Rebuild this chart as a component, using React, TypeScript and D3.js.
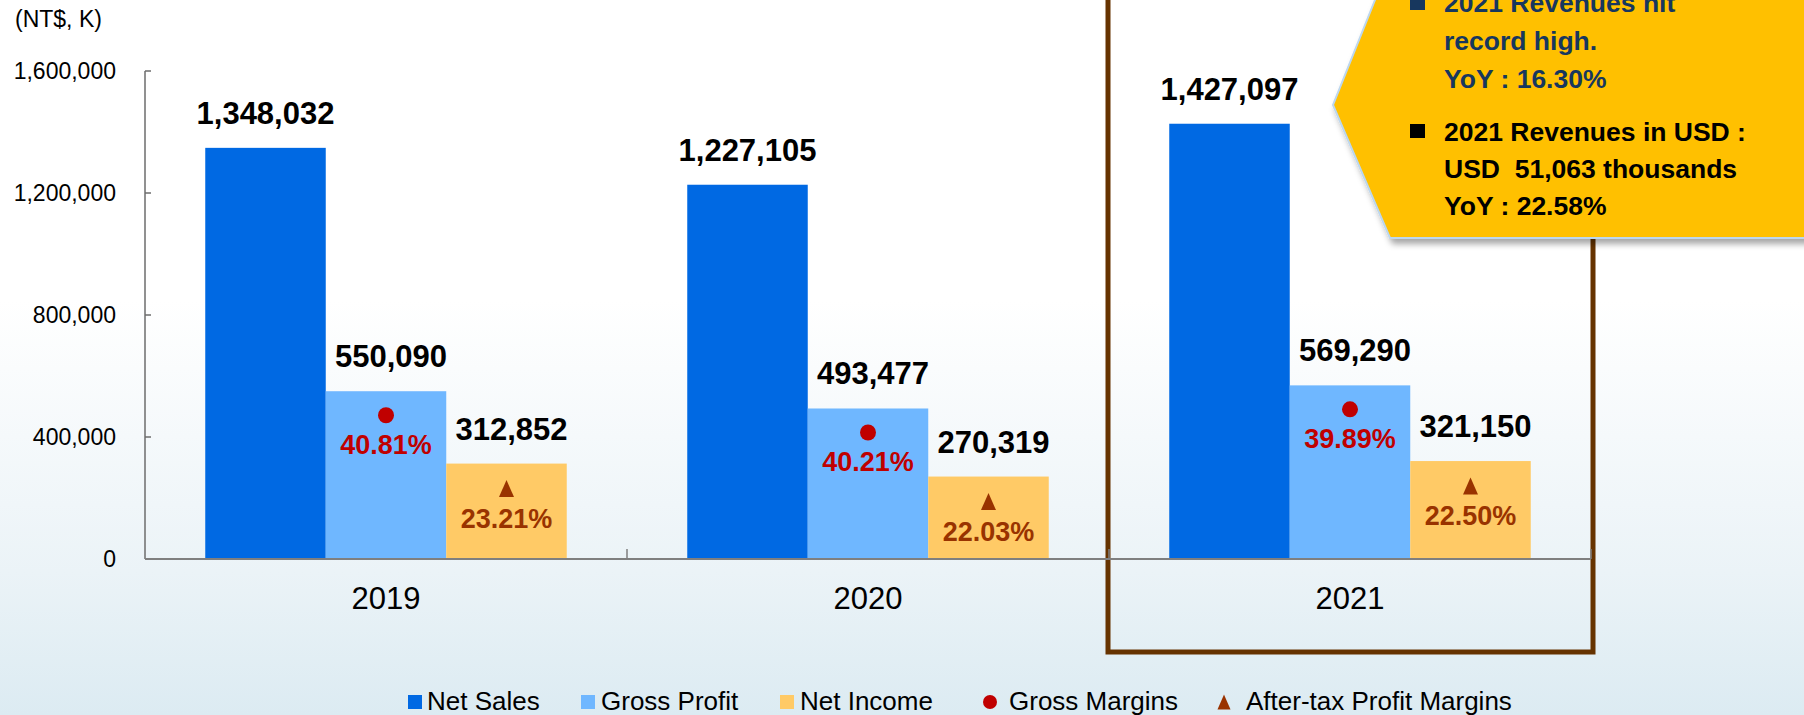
import React from 'react';
import * as d3 from 'd3';

const years = ['2019', '2020', '2021'];
const seriesNames = ['Net Sales', 'Gross Profit', 'Net Income'];
const netSales = [1348032, 1227105, 1427097];
const grossProfit = [550090, 493477, 569290];
const netIncome = [312852, 270319, 321150];
const grossMargins = ['40.81%', '40.21%', '39.89%'];
const afterTaxMargins = ['23.21%', '22.03%', '22.50%'];
const yTicks = [0, 400000, 800000, 1200000, 1600000];
const calloutLines1 = ['2021 Revenues hit', 'record high.', 'YoY : 16.30%'];
const calloutLines2 = ['2021 Revenues in USD :', 'USD  51,063 thousands', 'YoY : 22.58%'];

const W = 1804;
const H = 715;
const FONT = '"Liberation Sans", Arial, sans-serif';
const colors = ['#0069E3', '#6FB7FF', '#FFCA66'];
const RED = '#C00000';
const BROWN = '#993300';
const fmt = d3.format(',');

export default function App() {
  const x = d3.scaleBand().domain(years).range([145, 1591]);
  const bw = x.bandwidth();
  const xs = d3.scaleBand().domain(seriesNames).range([bw * 0.125, bw * 0.875]);
  const y = d3.scaleLinear().domain([0, 1600000]).range([559, 71]);

  const values = [netSales, grossProfit, netIncome];
  const tri = (cx: number, cy: number, w: number, h: number) =>
    `M${cx},${cy - h / 2}L${cx + w / 2},${cy + h / 2}L${cx - w / 2},${cy + h / 2}Z`;

  return (
    <svg
      width={W}
      height={H}
      style={{ position: 'absolute', left: 0, top: 0, display: 'block' }}
      fontFamily={FONT}
    >
      <defs>
        <linearGradient id="bg" x1="0" y1="0" x2="0" y2="1">
          <stop offset="0" stopColor="#FFFFFF" />
          <stop offset="0.42" stopColor="#FFFFFF" />
          <stop offset="0.8" stopColor="#EBF3F7" />
          <stop offset="1" stopColor="#DCEBF2" />
        </linearGradient>
        <filter id="shadow" x="-10%" y="-10%" width="130%" height="140%">
          <feDropShadow dx="3" dy="5" stdDeviation="3" floodColor="#000" floodOpacity="0.35" />
        </filter>
      </defs>
      <rect width={W} height={H} fill="url(#bg)" />

      <text x={15} y={27} fontSize={23} fill="#000">(NT$, K)</text>

      {/* y axis */}
      <line x1={145} x2={145} y1={y(1600000)} y2={y(0)} stroke="#6d6d6d" strokeWidth={1.5} />
      {yTicks.map(t => (
        <g key={t}>
          <line x1={145} x2={151} y1={y(t)} y2={y(t)} stroke="#6d6d6d" strokeWidth={1.5} />
          <text x={116} y={y(t)} dy="0.36em" textAnchor="end" fontSize={23}>
            {fmt(t)}
          </text>
        </g>
      ))}

      {/* bars */}
      {years.map((yr, i) => (
        <g key={yr} transform={`translate(${x(yr)},0)`}>
          {seriesNames.map((s, j) => (
            <rect
              key={s}
              x={xs(s)}
              y={y(values[j][i])}
              width={xs.bandwidth()}
              height={y(0) - y(values[j][i])}
              fill={colors[j]}
            />
          ))}
        </g>
      ))}

      {/* highlight box around 2021 */}
      <rect
        x={(x('2021') as number) - 1}
        y={-20}
        width={bw + 3}
        height={672}
        fill="none"
        stroke="#663300"
        strokeWidth={5}
      />

      {/* x axis */}
      <line x1={145} x2={1591} y1={y(0)} y2={y(0)} stroke="#7f7f7f" strokeWidth={2} />
      {years.map(yr => (
        <line
          key={yr}
          x1={(x(yr) as number) + bw}
          x2={(x(yr) as number) + bw}
          y1={y(0)}
          y2={y(0) - 10}
          stroke="#7f7f7f"
          strokeWidth={1.5}
        />
      ))}
      {years.map(yr => (
        <text
          key={yr}
          x={(x(yr) as number) + bw / 2}
          y={609}
          textAnchor="middle"
          fontSize={31}
        >
          {yr}
        </text>
      ))}

      {/* value labels */}
      {years.map((yr, i) =>
        seriesNames.map((s, j) => (
          <text
            key={yr + s}
            x={(x(yr) as number) + (xs(s) as number) + xs.bandwidth() / 2 + (j === 0 ? 0 : 5)}
            y={y(values[j][i]) - 24}
            textAnchor="middle"
            fontSize={31}
            fontWeight="bold"
          >
            {fmt(values[j][i])}
          </text>
        ))
      )}

      {/* margin markers */}
      {years.map((yr, i) => {
        const gx = (x(yr) as number) + (xs('Gross Profit') as number) + xs.bandwidth() / 2;
        const nx = (x(yr) as number) + (xs('Net Income') as number) + xs.bandwidth() / 2;
        const gy = y(grossProfit[i]) + 24;
        const ny = y(netIncome[i]) + 25;
        return (
          <g key={yr}>
            <circle cx={gx} cy={gy} r={8} fill={RED} />
            <text x={gx} y={gy + 39} textAnchor="middle" fontSize={27} fontWeight="bold" fill={RED}>
              {grossMargins[i]}
            </text>
            <path d={tri(nx, ny, 15, 17)} fill={BROWN} />
            <text x={nx} y={ny + 39} textAnchor="middle" fontSize={27} fontWeight="bold" fill={BROWN}>
              {afterTaxMargins[i]}
            </text>
          </g>
        );
      })}

      {/* callout */}
      <g filter="url(#shadow)">
        <path
          d="M1377,-5L1333,105L1390,238L1810,238L1810,-5Z"
          fill="#FFC000"
          stroke="#BDD7EE"
          strokeWidth={2}
        />
      </g>
      <rect x={1410} y={-4} width={15} height={14} fill="#17375E" />
      {calloutLines1.map((t, i) => (
        <text key={t} x={1444} y={12 + i * 38} fontSize={26.5} fontWeight="bold" fill="#17375E">
          {t}
        </text>
      ))}
      <rect x={1410} y={124} width={15} height={14} fill="#000" />
      {calloutLines2.map((t, i) => (
        <text
          key={t}
          x={1444}
          y={141 + i * 37}
          fontSize={26.5}
          fontWeight="bold"
          fill="#000"
          style={{ whiteSpace: 'pre' }}
        >
          {t}
        </text>
      ))}

      {/* legend */}
      <g fontSize={26}>
        <rect x={408} y={695} width={14} height={14} fill={colors[0]} />
        <text x={427} y={710}>{seriesNames[0]}</text>
        <rect x={581} y={695} width={14} height={14} fill={colors[1]} />
        <text x={601} y={710}>{seriesNames[1]}</text>
        <rect x={780} y={695} width={14} height={14} fill={colors[2]} />
        <text x={800} y={710}>{seriesNames[2]}</text>
        <circle cx={990} cy={702} r={7} fill={RED} />
        <text x={1009} y={710}>Gross Margins</text>
        <path d={tri(1224, 702, 13, 15)} fill={BROWN} />
        <text x={1246} y={710}>After-tax Profit Margins</text>
      </g>
    </svg>
  );
}
